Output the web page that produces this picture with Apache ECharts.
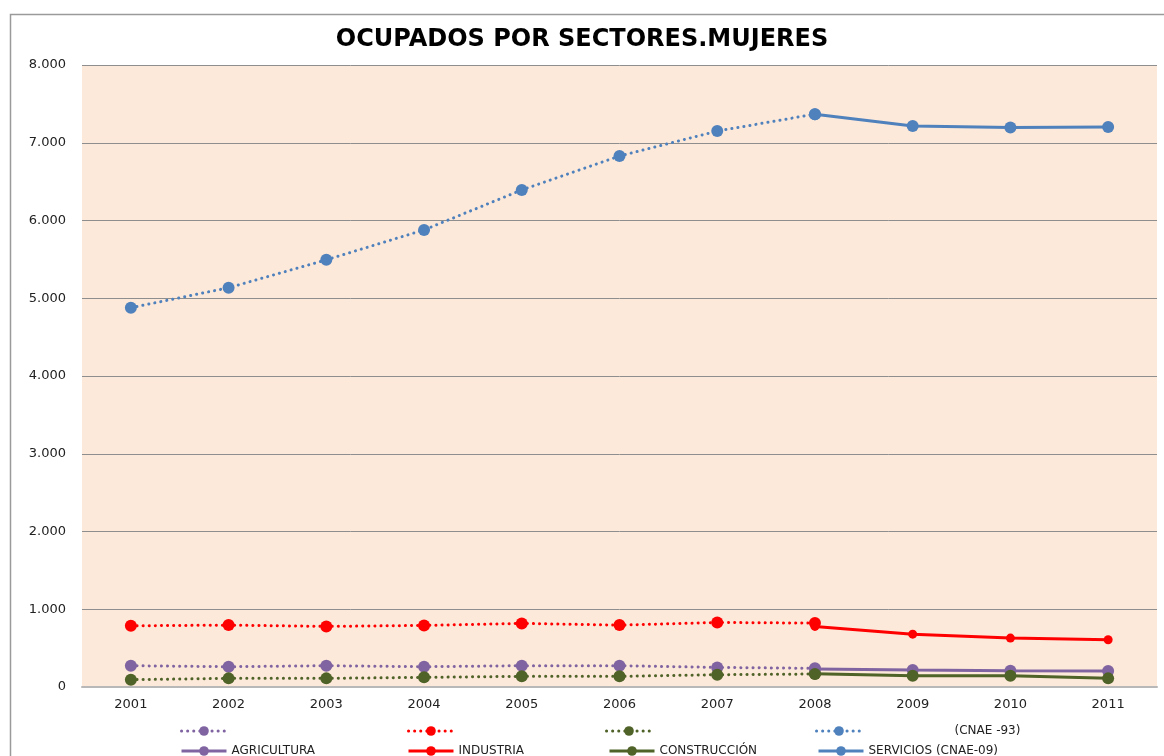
<!DOCTYPE html>
<html>
<head>
<meta charset="utf-8">
<script src="https://cdn.jsdelivr.net/npm/echarts@6/dist/echarts.min.js"></script>
<style>html,body{margin:0;padding:0;background:#fff}#c{width:1164px;height:756px}</style>
</head>
<body>
<div id="c"></div>
<script>
const years = ['2001','2002','2003','2004','2005','2006','2007','2008','2009','2010','2011'];
const yTicks = [0,1000,2000,3000,4000,5000,6000,7000,8000];
// CNAE-93 (2001-2008)
const agri93 = [274,261,274,261,274,274,252,240,null,null,null];
const ind93  = [787,796,779,792,818,796,830,822,null,null,null];
const cons93 = [94,111,111,124,137,137,158,167,null,null,null];
const serv93 = [4878,5135,5494,5879,6393,6829,7150,7368,null,null,null];
// CNAE-09 (2008-2011)
const agri09 = [null,null,null,null,null,null,null,231,218,209,205];
const ind09  = [null,null,null,null,null,null,null,779,680,629,607];
const cons09 = [null,null,null,null,null,null,null,171,145,145,111];
const serv09 = [null,null,null,null,null,null,null,7368,7214,7195,7202];

const C = {agri:'#8064A2', ind:'#FF0000', cons:'#4F6228', serv:'#4F81BD'};
const FONT = 'DejaVu Sans';

function dotted(name, data, color){
  return {name, type:'line', data, connectNulls:false, symbol:'circle', symbolSize:12,
    itemStyle:{color}, lineStyle:{color, width:3, type:[0.1,6], cap:'round'}, z:3};
}
function solid(name, data, color, size){
  return {name, type:'line', data, connectNulls:false, symbol:'circle', symbolSize:size||12,
    itemStyle:{color}, lineStyle:{color, width:3, type:'solid'}, z:2};
}
const series = [
  dotted('a93', agri93, C.agri),
  dotted('i93', ind93, C.ind),
  dotted('c93', cons93, C.cons),
  dotted('s93', serv93, C.serv),
  solid('AGRICULTURA', agri09, C.agri),
  solid('INDUSTRIA', ind09, C.ind, 9),
  solid('CONSTRUCCIÓN', cons09, C.cons),
  solid('SERVICIOS (CNAE-09)', serv09, C.serv)
];
const labelMap = {a93:'', i93:'', c93:'', s93:'(CNAE -93)'};
function leg(name, left, top, pad){
  return {data:[name], left, top, itemWidth:45, itemHeight:12, itemGap:0,
    lineStyle:{width:3},
    formatter: n => (n in labelMap ? labelMap[n] : n),
    textStyle:{fontFamily:FONT, fontSize:12, color:'#222', padding:[0,0,0,pad||0]},
    selectedMode:false};
}
const chart = echarts.init(document.getElementById('c'));
chart.setOption({
  animation:false,
  backgroundColor:'#fff',
  title:{text:'OCUPADOS POR SECTORES.MUJERES', left:'center', top:23,
    textStyle:{fontFamily:FONT, fontWeight:'bold', fontSize:24, color:'#000'}},
  graphic:[{type:'rect', shape:{x:10.5, y:14.5, width:1170, height:760},
    style:{fill:null, stroke:'#9a9a9a', lineWidth:1.5}, silent:true}],
  grid:{left:82, right:7, top:65, bottom:69, show:true, backgroundColor:'#fde9d9', borderWidth:0},
  xAxis:{type:'category', data:years, boundaryGap:true,
    axisLine:{lineStyle:{color:'#b8b8b8', width:2}}, axisTick:{show:false},
    axisLabel:{fontFamily:FONT, fontSize:13, color:'#222', margin:11}},
  yAxis:{type:'value', min:yTicks[0], max:yTicks[yTicks.length-1], interval:1000,
    axisLine:{show:false}, axisTick:{show:false},
    splitLine:{lineStyle:{color:'#8e8e8e', width:1}},
    axisLabel:{fontFamily:FONT, fontSize:13, color:'#222', margin:16,
      formatter: v => v.toLocaleString('de-DE')}},
  legend:[
    leg('a93',175,720), leg('i93',402,720), leg('c93',600,720), leg('s93',810,720,88),
    leg('AGRICULTURA',175,740), leg('INDUSTRIA',402,740), leg('CONSTRUCCIÓN',603,740), leg('SERVICIOS (CNAE-09)',812,740)
  ],
  series
});
</script>
</body>
</html>
